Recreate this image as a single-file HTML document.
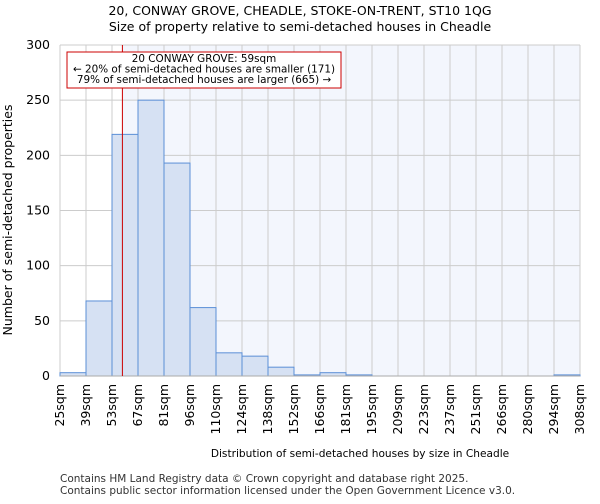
<!DOCTYPE html>
<html><head><meta charset="utf-8"><style>
body{margin:0;background:#fff;font-family:"DejaVu Sans","Liberation Sans",sans-serif}
</style></head><body>
<svg width="600" height="500" xmlns="http://www.w3.org/2000/svg" font-family="DejaVu Sans, Liberation Sans, sans-serif">
<text x="300" y="15" text-anchor="middle" font-size="12.5">20, CONWAY GROVE, CHEADLE, STOKE-ON-TRENT, ST10 1QG</text>
<text x="300" y="31" text-anchor="middle" font-size="12.5">Size of property relative to semi-detached houses in Cheadle</text>
<g id="plot"></g>
<text x="12" y="220" transform="rotate(-90 12 220)" text-anchor="middle" font-size="12.5">Number of semi-detached properties</text>
<text x="360" y="457" text-anchor="middle" font-size="10.6">Distribution of semi-detached houses by size in Cheadle</text>
<text x="60" y="482" font-size="10.5" fill="#333">Contains HM Land Registry data © Crown copyright and database right 2025.</text>
<text x="60" y="494" font-size="10.5" fill="#333">Contains public sector information licensed under the Open Government Licence v3.0.</text>
</svg>
<script>
const tickLabels=["25sqm","39sqm","53sqm","67sqm","81sqm","96sqm","110sqm","124sqm","138sqm","152sqm","166sqm","181sqm","195sqm","209sqm","223sqm","237sqm","251sqm","266sqm","280sqm","294sqm","308sqm"];
const counts=[3,68,219,250,193,62,21,18,8,1,3,1,0,0,0,0,0,0,0,1];
const yTicks=[0,50,100,150,200,250,300];
const markerIndex=2.4;
const X0=60,X1=580,Y0=376,Y1=45,YMAX=300;
const bw=(X1-X0)/counts.length;
const xs=i=>X0+i*bw;
const ys=v=>Y0-(v/YMAX)*(Y0-Y1);
const NS="http://www.w3.org/2000/svg";
const g=document.getElementById('plot');
function mk(t,a){const e=document.createElementNS(NS,t);for(const k in a)e.setAttribute(k,a[k]);g.appendChild(e);return e;}
const mx=xs(markerIndex);
let bg=mk('rect',{x:mx,y:Y1,width:X1-mx,height:Y0-Y1,fill:'#f3f6fd'});


yTicks.forEach(t=>{
 const l=mk('line',{x1:X0,x2:X1,y1:ys(t),y2:ys(t),stroke:'#ccc','stroke-width':1});
 
 
 const tx=mk('text',{x:X0-10,y:ys(t)+4,'text-anchor':'end','font-size':12.5});
 tx.textContent=t;
 
 
});
tickLabels.forEach((s,i)=>{
 const l=mk('line',{x1:xs(i),x2:xs(i),y1:Y1,y2:Y0,stroke:'#ccc','stroke-width':1});
 
 
 const x=xs(i)+4,y=Y0+8;
 const tx=mk('text',{x:x,y:y,'text-anchor':'end','font-size':12.5,transform:`rotate(-90 ${x} ${y})`});
 tx.textContent=s;
 
 
});
counts.forEach((c,i)=>{
 const r=mk('rect',{x:xs(i),y:ys(c),width:bw,height:Y0-ys(c),fill:'#d6e1f3',stroke:'#5b8fd6','stroke-width':1});
 
 
});
let ax=mk('line',{x1:X0,x2:X1,y1:Y0,y2:Y0,stroke:'#aaa','stroke-width':1});


let ml=mk('line',{x1:mx,x2:mx,y1:Y1,y2:Y0,stroke:'#cc0000','stroke-width':1});


let box=mk('rect',{x:67,y:52,width:274,height:36,fill:'#fff',stroke:'#cc0000','stroke-width':1});


["20 CONWAY GROVE: 59sqm","← 20% of semi-detached houses are smaller (171)","79% of semi-detached houses are larger (665) →"].forEach((s,i)=>{
 const t=mk('text',{x:204,y:62+i*10.5,'text-anchor':'middle','font-size':10.4});
 t.textContent=s;
 
 
});
</script>
</body></html>
